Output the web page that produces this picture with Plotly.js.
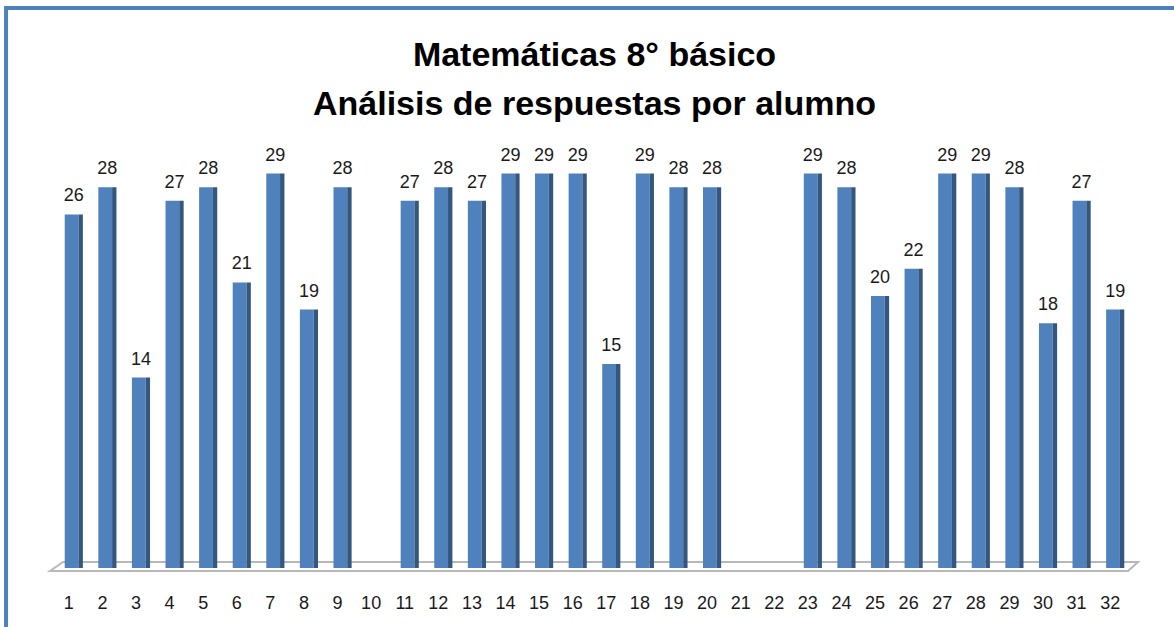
<!DOCTYPE html>
<html>
<head>
<meta charset="utf-8">
<script src="https://cdn.plot.ly/plotly-3.0.1.min.js"></script>
<style>
  html, body { margin: 0; padding: 0; background: #ffffff; }
  #chart { width: 1174px; height: 627px; }
</style>
</head>
<body>
<div id="chart"></div>
<script>
// ---- data ----
const categories = ['1','2','3','4','5','6','7','8','9','10','11','12','13','14','15','16',
                    '17','18','19','20','21','22','23','24','25','26','27','28','29','30','31','32'];
const values = [26, 28, 14, 27, 28, 21, 29, 19, 28, null, 27, 28, 27, 29, 29, 29,
                15, 29, 28, 28, null, null, 29, 28, 20, 22, 29, 29, 28, 18, 27, 19];
const titleLine1 = 'Matemáticas 8° básico';
const titleLine2 = 'Análisis de respuestas por alumno';

const labels = values.map(v => (v === null ? '' : String(v)));

const FONT = '"Liberation Sans", Arial, sans-serif';

const traces = [
  {
    type: 'bar', x: categories, y: values,
    width: 0.41, offset: -0.27,
    marker: { color: '#4f81bd', line: { width: 0 } },
    hoverinfo: 'skip', showlegend: false
  },
  {
    type: 'bar', x: categories, y: values,
    width: 0.13, offset: 0.14,
    marker: { color: '#34577f', line: { width: 0 } },
    hoverinfo: 'skip', showlegend: false
  },
  {
    type: 'scatter', mode: 'markers+text', x: categories, y: values,
    text: labels, textposition: 'top center',
    textfont: { family: FONT, size: 18, color: '#1a1a1a' },
    marker: { size: 12, color: 'rgba(0,0,0,0)' },
    cliponaxis: false, hoverinfo: 'skip', showlegend: false
  }
];

const layout = {
  width: 1174, height: 627,
  margin: { l: 57, r: 42, t: 160, b: 59, pad: 0 },
  paper_bgcolor: '#ffffff', plot_bgcolor: 'rgba(0,0,0,0)',
  barmode: 'overlay',
  showlegend: false,
  title: {
    text: titleLine1,
    font: { family: FONT, size: 34, color: '#000000', weight: 'bold' },
    x: 0.5, xref: 'paper', xanchor: 'center',
    y: 1 - 54 / 627, yref: 'container', yanchor: 'middle'
  },
  annotations: [
    {
      text: '<b>' + titleLine2 + '</b>', showarrow: false,
      xref: 'paper', yref: 'paper', x: 0.5, y: 1.14,
      xanchor: 'center', yanchor: 'middle',
      font: { family: FONT, size: 34, color: '#000000' }
    }
  ],
  xaxis: {
    type: 'category', categoryorder: 'array', categoryarray: categories,
    range: [-0.5, 31.5], showgrid: false, zeroline: false, showline: false,
    ticks: 'outside', ticklen: 18, tickcolor: 'rgba(0,0,0,0)',
    ticklabelshift: -5,
    tickfont: { family: FONT, size: 18, color: '#1a1a1a' },
    fixedrange: true
  },
  yaxis: {
    range: [0, 30], visible: false, showgrid: false, zeroline: false, fixedrange: true
  },
  shapes: [
    // floor (3D base plane)
    {
      type: 'path', xref: 'paper', yref: 'paper', layer: 'below',
      path: 'M -0.0065 -0.0074 L 0.0056 0.0147 L 1.0056 0.0147 L 0.9963 -0.0074 Z',
      fillcolor: '#ffffff', line: { color: '#b8b8b8', width: 2 }
    },
    // blue frame (top and left edges)
    {
      type: 'path', xref: 'paper', yref: 'paper', layer: 'above',
      path: 'M -0.0474 -0.16 L -0.0474 1.3725 L 1.05 1.3725',
      line: { color: '#4f81bd', width: 4 }
    }
  ]
};

Plotly.newPlot('chart', traces, layout, { staticPlot: true, displayModeBar: false });
</script>
</body>
</html>
